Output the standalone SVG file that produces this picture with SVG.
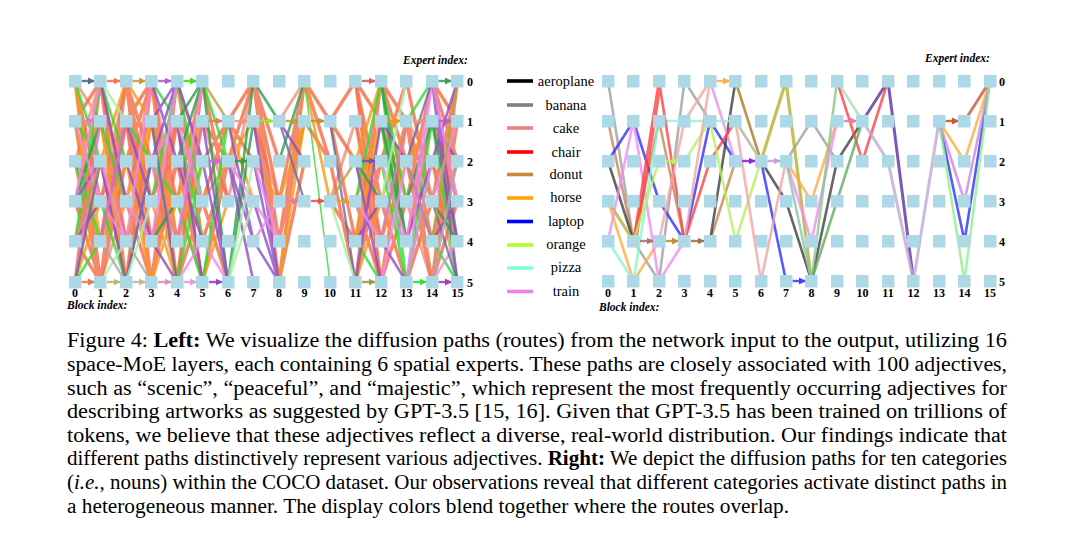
<svg xmlns="http://www.w3.org/2000/svg" width="1080" height="533" viewBox="0 0 1080 533">
<style>
.sq{fill:#add8e6;width:12.5px;height:12.5px}
.cn path{fill:none;stroke-linecap:round;stroke-opacity:.8}
.h{stroke-width:2.4;marker-end:url(#ah);stroke-opacity:.9}
.la{stroke:#f26d45;stroke-width:3.4}
.lb{stroke:#f4907e;stroke-width:3}
.lc{stroke:#f59a18;stroke-width:2.8}
.ld{stroke:#30dd30;stroke-width:2.6}
.le{stroke:#2e9e4e;stroke-width:2.6}
.lf{stroke:#8e4ec6;stroke-width:2.6}
.lg{stroke:#ee88ee;stroke-width:2.6}
.lh{stroke:#e07ab8;stroke-width:2.6}
.li{stroke:#6a6aa8;stroke-width:2.4}
.lj{stroke:#b8a040;stroke-width:2.6}
.lk{stroke:#a8f0a8;stroke-width:2.6}
.ll{stroke:#a8a8a8;stroke-width:2.4}
.r{stroke-width:2.6}
.ax{font-family:"Liberation Serif",serif;font-weight:bold;font-size:12px;fill:#000}
.axc{text-anchor:middle}
.axt{font-family:"Liberation Serif",serif;font-weight:bold;font-style:italic;font-size:11.5px}
.lgt{font-family:"Liberation Serif",serif;font-size:14.5px;text-anchor:middle;fill:#000}
.lgl{stroke-width:3.6}
.cap{font-family:"Liberation Serif",serif;font-size:20.5px;fill:#000}
</style>
<defs>
<marker id="ah" viewBox="0 0 10 10" refX="9" refY="5" markerWidth="3" markerHeight="3" orient="auto"><path d="M0 0L10 5L0 10z" fill="context-stroke"/></marker>
</defs>
<rect width="1080" height="533" fill="#fff"/>

<!-- LEFT CONNECTORS -->
<g id="connectors-left" class="cn">
<path class="lb" d="M75 241L100.5 121M75 161L100.5 81M75 282L100.5 161M75 81L100.5 121M100.5 81L126 241M100.5 201L126 81M100.5 282L126 201M100.5 161L126 201M126 201L151.5 81M126 282L151.5 121M126 121L151.5 241M126 161L151.5 121M151.5 81L177 201M151.5 161L177 282M151.5 241L177 121M177 81L202.5 161M177 201L202.5 282M177 282L202.5 121M202.5 121L228 201M228 201L253.5 81M253.5 121L279 201M279 121L304.5 81M330 201L355.5 121M355.5 121L381 282M355.5 81L381 241M381 121L406.5 201M381 81L406.5 201M406.5 121L432 161M406.5 201L432 282M432 81L457.5 201M432 161L457.5 282"/>
<path class="la" d="M75 81L100.5 282M75 121L100.5 282M75 161L100.5 282M75 201L100.5 282M75 81L100.5 201M75 282L100.5 81M75 121L100.5 81M75 241L100.5 282M75 201L100.5 241M100.5 282L126 81M100.5 282L126 121M100.5 241L126 81M100.5 81L126 201M100.5 161L126 282M100.5 121L126 241M100.5 201L126 121M100.5 282L126 161M100.5 81L126 282M126 81L151.5 282M126 81L151.5 241M126 81L151.5 201M126 121L151.5 282M126 81L151.5 161M126 282L151.5 81M126 161L151.5 81M126 201L151.5 282M126 241L151.5 161M126 121L151.5 81M151.5 282L177 121M151.5 282L177 81M151.5 121L177 282M151.5 241L177 161M151.5 81L177 241M151.5 201L177 121M151.5 282L177 161M151.5 81L177 282M151.5 121L177 201M177 121L202.5 282M177 282L202.5 81M177 81L202.5 241M177 161L202.5 201M177 241L202.5 121M177 161L202.5 282M177 201L202.5 81M177 282L202.5 201M177 121L202.5 161M202.5 161L228 121M202.5 201L228 121M202.5 241L228 161M202.5 81L228 201M202.5 121L228 161M202.5 201L228 282M202.5 282L228 161M228 121L253.5 81M228 161L253.5 81M228 121L253.5 161M253.5 81L279 282M253.5 81L279 201M253.5 81L279 161M253.5 81L279 241M253.5 121L279 241M279 282L304.5 81M279 282L304.5 161M279 201L304.5 81M279 241L304.5 121M279 241L304.5 81M304.5 81L330 121M304.5 81L330 161M304.5 121L330 161M330 121L355.5 81M330 121L355.5 241M330 121L355.5 161M330 161L355.5 282M330 201L355.5 241M355.5 81L381 282M355.5 81L381 201M355.5 282L381 81M355.5 282L381 161M355.5 241L381 81M355.5 161L381 241M355.5 121L381 241M355.5 201L381 282M355.5 241L381 161M355.5 81L381 121M381 81L406.5 161M381 282L406.5 121M381 241L406.5 121M381 81L406.5 121M381 121L406.5 241M381 161L406.5 81M381 201L406.5 282M381 282L406.5 201M406.5 121L432 282M406.5 121L432 241M406.5 161L432 282M406.5 121L432 201M406.5 201L432 81M406.5 81L432 201M406.5 241L432 121M406.5 282L432 201M432 282L457.5 81M432 81L457.5 161M432 282L457.5 121M432 81L457.5 121M432 241L457.5 121M432 282L457.5 201M432 201L457.5 81M432 161L457.5 241M432 121L457.5 201M432 241L457.5 161"/>
<path class="lc" d="M75 121L100.5 241M75 201L100.5 81M75 282L100.5 201M75 81L100.5 241M75 161L100.5 121M100.5 121L126 282M100.5 241L126 161M100.5 161L126 81M100.5 241L126 201M126 161L151.5 282M126 241L151.5 121M126 81L151.5 121M126 201L151.5 121M151.5 121L177 241M151.5 201L177 282M151.5 282L177 201M177 201L202.5 121M177 161L202.5 121M177 241L202.5 161M202.5 201L228 161M202.5 282L228 201M228 121L253.5 201M228 161L253.5 121M253.5 161L279 201M279 282L304.5 121M279 201L304.5 121M304.5 81L330 201M355.5 241L381 121M355.5 201L381 121M355.5 161L381 81M355.5 282L381 201M381 201L406.5 121M381 241L406.5 161M406.5 161L432 121M432 161L457.5 121"/>
<path class="ld" d="M75 81L100.5 161M75 241L100.5 81M75 161L100.5 241M75 282L100.5 241M75 121L100.5 161M100.5 81L126 161M100.5 201L126 282M100.5 121L126 201M126 282L151.5 161M126 121L151.5 161M151.5 201L177 81M151.5 161L177 201M151.5 81L177 121M177 81L202.5 201M177 282L202.5 161M177 121L202.5 241M177 201L202.5 282M202.5 282L228 121M202.5 81L228 161M381 81L406.5 282M381 121L406.5 282M381 81L406.5 201M381 161L406.5 282M355.5 241L381 282M355.5 201L381 81M406.5 282L432 161M406.5 121L432 81M406.5 282L432 121M432 121L457.5 282M432 241L457.5 282"/>
<path class="ld" style="stroke-width:1.6" d="M304.5 81L330 282"/>
<path class="le" d="M75 201L100.5 121M151.5 241L177 201M177 161L202.5 81M177 121L202.5 81M202.5 81L228 282M228 282L253.5 81M228 282L253.5 121M253.5 81L279 121M279 161L304.5 81M355.5 161L381 201M381 81L406.5 241M381 121L406.5 241M406.5 201L432 121M406.5 161L432 241M432 121L457.5 241M432 201L457.5 241"/>
<path class="lf" d="M75 201L100.5 161M75 241L100.5 201M100.5 161L126 282M100.5 81L126 201M100.5 241L126 121M126 121L151.5 201M126 161L151.5 241M126 282L151.5 161M151.5 81L177 161M151.5 161L177 81M151.5 121L177 81M151.5 241L177 282M177 121L202.5 282M177 81L202.5 161M177 161L202.5 241M202.5 121L228 282M202.5 161L228 282M228 161L253.5 241M228 161L253.5 282M228 121L253.5 241M253.5 121L279 282M253.5 161L279 282M253.5 201L279 282M253.5 241L279 282M279 121L304.5 161M355.5 282L381 121M355.5 161L381 282M355.5 241L381 201M381 121L406.5 161M381 241L406.5 282M406.5 241L432 161M432 81L457.5 241M432 81L457.5 282M432 121L457.5 161M432 161L457.5 81M432 241L457.5 201"/>
<path class="lg" d="M75 121L100.5 201M75 241L100.5 161M75 201L100.5 81M100.5 161L126 241M100.5 201L126 241M126 241L151.5 81M126 201L151.5 241M151.5 241L177 81M151.5 161L177 121M177 121L202.5 201M177 282L202.5 241M177 241L202.5 81M202.5 241L228 282M228 161L253.5 201M253.5 161L279 241M253.5 201L279 241M253.5 241L279 201M355.5 201L381 241M381 282L406.5 161M381 161L406.5 241M381 201L406.5 241M406.5 282L432 81M406.5 241L432 81M406.5 282L432 161M432 81L457.5 201M432 201L457.5 121M432 282L457.5 241"/>
<path class="lh" d="M75 282L100.5 121M75 161L100.5 201M100.5 241L126 121M151.5 161L177 241M177 241L202.5 121M381 241L406.5 121M406.5 161L432 241"/>
<path class="li" d="M75 282L100.5 161M151.5 121L177 282M279 121L304.5 201M330 121L355.5 282M406.5 161L432 81M432 201L457.5 282"/>
<path class="lj" d="M202.5 81L228 121M330 201L355.5 161M432 241L457.5 81M75 241L100.5 161"/>
<path class="lk" d="M228 282L253.5 161M228 282L253.5 201M126 282L151.5 201M330 201L355.5 282M381 201L406.5 81M100.5 282L126 241M100.5 81L126 121"/>
<path class="ll" d="M100.5 241L126 282M126 241L151.5 282M432 282L457.5 161"/>
<line class="h" x1="81.5" y1="81" x2="94.5" y2="81" stroke="#5a6a90"/>
<line class="h" x1="107" y1="81" x2="120" y2="81" stroke="#f07850"/>
<line class="h" x1="132.5" y1="81" x2="145.5" y2="81" stroke="#c8a030"/>
<line class="h" x1="158" y1="81" x2="171" y2="81" stroke="#b060d0"/>
<line class="h" x1="183.5" y1="81" x2="196.5" y2="81" stroke="#44dd22"/>
<line class="h" x1="362" y1="81" x2="375" y2="81" stroke="#d06070"/>
<line class="h" x1="438.5" y1="81" x2="451.5" y2="81" stroke="#40a060"/>
<line class="h" x1="81.5" y1="121" x2="94.5" y2="121" stroke="#e080c0"/>
<line class="h" x1="209" y1="121" x2="222" y2="121" stroke="#f07850"/>
<line class="h" x1="234.5" y1="121" x2="247.5" y2="121" stroke="#f09080"/>
<line class="h" x1="260" y1="121" x2="273" y2="121" stroke="#88ee33"/>
<line class="h" x1="285.5" y1="121" x2="298.5" y2="121" stroke="#b8a030"/>
<line class="h" x1="311" y1="121" x2="324" y2="121" stroke="#c89020"/>
<line class="h" x1="387.5" y1="121" x2="400.5" y2="121" stroke="#ff8c10"/>
<line class="h" x1="413" y1="121" x2="426" y2="121" stroke="#f09080"/>
<line class="h" x1="438.5" y1="121" x2="451.5" y2="121" stroke="#b060d0"/>
<line class="h" x1="209" y1="161" x2="222" y2="161" stroke="#c070e0"/>
<line class="h" x1="234.5" y1="161" x2="247.5" y2="161" stroke="#30a040"/>
<line class="h" x1="362" y1="161" x2="375" y2="161" stroke="#7050c0"/>
<line class="h" x1="285.5" y1="201" x2="298.5" y2="201" stroke="#e080a0"/>
<line class="h" x1="311" y1="201" x2="324" y2="201" stroke="#f05050"/>
<line class="h" x1="336.5" y1="201" x2="349.5" y2="201" stroke="#e0a020"/>
<line class="h" x1="81.5" y1="282" x2="94.5" y2="282" stroke="#f07850"/>
<line class="h" x1="107" y1="282" x2="120" y2="282" stroke="#b8b870"/>
<line class="h" x1="132.5" y1="282" x2="145.5" y2="282" stroke="#c0c090"/>
<line class="h" x1="158" y1="282" x2="171" y2="282" stroke="#d890c0"/>
<line class="h" x1="183.5" y1="282" x2="196.5" y2="282" stroke="#e0a0e0"/>
<line class="h" x1="209" y1="282" x2="222" y2="282" stroke="#9a40c8"/>
<line class="h" x1="362" y1="282" x2="375" y2="282" stroke="#a0a040"/>
<line class="h" x1="413" y1="282" x2="426" y2="282" stroke="#30e030"/>
<line class="h" x1="438.5" y1="282" x2="451.5" y2="282" stroke="#a040c0"/>
</g>

<!-- RIGHT CONNECTORS -->
<g id="connectors-right" class="cn">
<path class="r" stroke="#a0a0a0" d="M608 81L633.5 241M633.5 241L659 281M659 281L684.5 81M684.5 81L710 121M786 161L811.5 121M811.5 121L837 161"/>
<path class="r" stroke="#c8875a" d="M608 121L633.5 241M633.5 241L659 121M659 121L684.5 241M710 241L735.5 161"/>
<path class="r" stroke="#3030ff" d="M608 161L633.5 121M633.5 121L659 201M659 201L684.5 241M684.5 241L710 121M710 121L735.5 161M761 161L786 281M939 121L964.5 241M964.5 241L990 81"/>
<path class="r" stroke="#404040" d="M608 161L633.5 241M710 241L735.5 81M761 161L786 201M786 201L811.5 281M811.5 281L837 161M837 161L862.5 121"/>
<path class="r" stroke="#b4b030" style="stroke-width:3.2" d="M608 201L633.5 241M761 161L786 81M786 81L811.5 281"/>
<path class="r" stroke="#ffae40" d="M608 201L633.5 281M633.5 281L659 241M786 161L811.5 201M811.5 201L837 121M939 121L964.5 161M964.5 161L990 81"/>
<path class="r" stroke="#f08cf0" d="M608 241L633.5 121M633.5 121L659 281M659 281L684.5 241M710 81L735.5 161M786 161L811.5 241M811.5 241L837 121"/>
<path class="r" stroke="#88f5d0" d="M608 241L633.5 281M633.5 281L659 121M659 121L735.5 121"/>
<path class="r" stroke="#ff4040" d="M633.5 241L659 81M636 241L661 81M659 81L684.5 241M684.5 241L710 161M710 161L735.5 121M837 81L862.5 161M862.5 161L888 81"/>
<path class="r" stroke="#b8f060" d="M633.5 241L659 161M684.5 161L710 121M710 121L735.5 241M735.5 241L761 161"/>
<path class="r" stroke="#f4a4a4" d="M659 241L684.5 121M684.5 121L710 81M684.5 241L710 81M735.5 121L761 281M761 281L786 161"/>
<path class="r" stroke="#b07818" d="M735.5 81L761 161"/>
<path class="r" stroke="#a8b49c" d="M735.5 121L761 161"/>
<path class="r" stroke="#88c8a0" d="M786 161L811.5 281"/>
<path class="r" stroke="#8cc88c" d="M811.5 281L837 81"/>
<path class="r" stroke="#60aa60" d="M811.5 281L862.5 121"/>
<path class="r" stroke="#a8dcb0" d="M837 81L862.5 121"/>
<path class="r" stroke="#5a2ea0" style="stroke-width:3" d="M862.5 121L888 81M888 81L913.5 281"/>
<path class="r" stroke="#c0a8d0" style="stroke-width:3" d="M862.5 121L888 161M888 161L913.5 281M913.5 281L939 121"/>
<path class="r" stroke="#c85a30" style="stroke-width:3" d="M964.5 121L990 81"/>
<path class="r" stroke="#c888d8" d="M939 121L964.5 201M964.5 201L990 81"/>
<path class="r" stroke="#90f090" d="M939 121L964.5 281M964.5 281L990 81"/>
<line class="h" x1="640" y1="241" x2="653" y2="241" stroke="#b07070"/>
<line class="h" x1="665.5" y1="241" x2="678.5" y2="241" stroke="#c09030"/>
<line class="h" x1="691" y1="241" x2="704" y2="241" stroke="#a07048"/>
<line class="h" x1="665.5" y1="161" x2="678.5" y2="161" stroke="#b8f060"/>
<line class="h" x1="716.5" y1="81" x2="729.5" y2="81" stroke="#ffb040"/>
<line class="h" x1="742" y1="161" x2="755" y2="161" stroke="#8a2be2"/>
<line class="h" x1="767.5" y1="161" x2="780" y2="161" stroke="#c8a0d0"/>
<line class="h" x1="792.5" y1="281" x2="805.5" y2="281" stroke="#4040ff"/>
<line class="h" x1="843.5" y1="121" x2="856.5" y2="121" stroke="#f07a9a"/>
<line class="h" x1="945.5" y1="121" x2="958.5" y2="121" stroke="#c85a30"/>
</g>

<!-- LEFT NODES -->
<g id="nodes-left">
<g id="L0-0"><rect class="sq" x="69" y="75"/></g><g id="L0-1"><rect class="sq" x="69" y="115"/></g><g id="L0-2"><rect class="sq" x="69" y="155"/></g><g id="L0-3"><rect class="sq" x="69" y="195"/></g><g id="L0-4"><rect class="sq" x="69" y="235"/></g><g id="L0-5"><rect class="sq" x="69" y="276"/></g>
<g id="L1-0"><rect class="sq" x="94" y="75"/></g><g id="L1-1"><rect class="sq" x="94" y="115"/></g><g id="L1-2"><rect class="sq" x="94" y="155"/></g><g id="L1-3"><rect class="sq" x="94" y="195"/></g><g id="L1-4"><rect class="sq" x="94" y="235"/></g><g id="L1-5"><rect class="sq" x="94" y="276"/></g>
<g id="L2-0"><rect class="sq" x="120" y="75"/></g><g id="L2-1"><rect class="sq" x="120" y="115"/></g><g id="L2-2"><rect class="sq" x="120" y="155"/></g><g id="L2-3"><rect class="sq" x="120" y="195"/></g><g id="L2-4"><rect class="sq" x="120" y="235"/></g><g id="L2-5"><rect class="sq" x="120" y="276"/></g>
<g id="L3-0"><rect class="sq" x="145" y="75"/></g><g id="L3-1"><rect class="sq" x="145" y="115"/></g><g id="L3-2"><rect class="sq" x="145" y="155"/></g><g id="L3-3"><rect class="sq" x="145" y="195"/></g><g id="L3-4"><rect class="sq" x="145" y="235"/></g><g id="L3-5"><rect class="sq" x="145" y="276"/></g>
<g id="L4-0"><rect class="sq" x="171" y="75"/></g><g id="L4-1"><rect class="sq" x="171" y="115"/></g><g id="L4-2"><rect class="sq" x="171" y="155"/></g><g id="L4-3"><rect class="sq" x="171" y="195"/></g><g id="L4-4"><rect class="sq" x="171" y="235"/></g><g id="L4-5"><rect class="sq" x="171" y="276"/></g>
<g id="L5-0"><rect class="sq" x="196" y="75"/></g><g id="L5-1"><rect class="sq" x="196" y="115"/></g><g id="L5-2"><rect class="sq" x="196" y="155"/></g><g id="L5-3"><rect class="sq" x="196" y="195"/></g><g id="L5-4"><rect class="sq" x="196" y="235"/></g><g id="L5-5"><rect class="sq" x="196" y="276"/></g>
<g id="L6-0"><rect class="sq" x="222" y="75"/></g><g id="L6-1"><rect class="sq" x="222" y="115"/></g><g id="L6-2"><rect class="sq" x="222" y="155"/></g><g id="L6-3"><rect class="sq" x="222" y="195"/></g><g id="L6-4"><rect class="sq" x="222" y="235"/></g><g id="L6-5"><rect class="sq" x="222" y="276"/></g>
<g id="L7-0"><rect class="sq" x="247" y="75"/></g><g id="L7-1"><rect class="sq" x="247" y="115"/></g><g id="L7-2"><rect class="sq" x="247" y="155"/></g><g id="L7-3"><rect class="sq" x="247" y="195"/></g><g id="L7-4"><rect class="sq" x="247" y="235"/></g><g id="L7-5"><rect class="sq" x="247" y="276"/></g>
<g id="L8-0"><rect class="sq" x="273" y="75"/></g><g id="L8-1"><rect class="sq" x="273" y="115"/></g><g id="L8-2"><rect class="sq" x="273" y="155"/></g><g id="L8-3"><rect class="sq" x="273" y="195"/></g><g id="L8-4"><rect class="sq" x="273" y="235"/></g><g id="L8-5"><rect class="sq" x="273" y="276"/></g>
<g id="L9-0"><rect class="sq" x="298" y="75"/></g><g id="L9-1"><rect class="sq" x="298" y="115"/></g><g id="L9-2"><rect class="sq" x="298" y="155"/></g><g id="L9-3"><rect class="sq" x="298" y="195"/></g><g id="L9-4"><rect class="sq" x="298" y="235"/></g><g id="L9-5"><rect class="sq" x="298" y="276"/></g>
<g id="L10-0"><rect class="sq" x="324" y="75"/></g><g id="L10-1"><rect class="sq" x="324" y="115"/></g><g id="L10-2"><rect class="sq" x="324" y="155"/></g><g id="L10-3"><rect class="sq" x="324" y="195"/></g><g id="L10-4"><rect class="sq" x="324" y="235"/></g><g id="L10-5"><rect class="sq" x="324" y="276"/></g>
<g id="L11-0"><rect class="sq" x="349" y="75"/></g><g id="L11-1"><rect class="sq" x="349" y="115"/></g><g id="L11-2"><rect class="sq" x="349" y="155"/></g><g id="L11-3"><rect class="sq" x="349" y="195"/></g><g id="L11-4"><rect class="sq" x="349" y="235"/></g><g id="L11-5"><rect class="sq" x="349" y="276"/></g>
<g id="L12-0"><rect class="sq" x="375" y="75"/></g><g id="L12-1"><rect class="sq" x="375" y="115"/></g><g id="L12-2"><rect class="sq" x="375" y="155"/></g><g id="L12-3"><rect class="sq" x="375" y="195"/></g><g id="L12-4"><rect class="sq" x="375" y="235"/></g><g id="L12-5"><rect class="sq" x="375" y="276"/></g>
<g id="L13-0"><rect class="sq" x="400" y="75"/></g><g id="L13-1"><rect class="sq" x="400" y="115"/></g><g id="L13-2"><rect class="sq" x="400" y="155"/></g><g id="L13-3"><rect class="sq" x="400" y="195"/></g><g id="L13-4"><rect class="sq" x="400" y="235"/></g><g id="L13-5"><rect class="sq" x="400" y="276"/></g>
<g id="L14-0"><rect class="sq" x="426" y="75"/></g><g id="L14-1"><rect class="sq" x="426" y="115"/></g><g id="L14-2"><rect class="sq" x="426" y="155"/></g><g id="L14-3"><rect class="sq" x="426" y="195"/></g><g id="L14-4"><rect class="sq" x="426" y="235"/></g><g id="L14-5"><rect class="sq" x="426" y="276"/></g>
<g id="L15-0"><rect class="sq" x="451" y="75"/></g><g id="L15-1"><rect class="sq" x="451" y="115"/></g><g id="L15-2"><rect class="sq" x="451" y="155"/></g><g id="L15-3"><rect class="sq" x="451" y="195"/></g><g id="L15-4"><rect class="sq" x="451" y="235"/></g><g id="L15-5"><rect class="sq" x="451" y="276"/></g>
</g>

<!-- RIGHT NODES -->
<g id="nodes-right">
<g id="R0-0"><rect class="sq" x="602" y="75"/></g><g id="R0-1"><rect class="sq" x="602" y="115"/></g><g id="R0-2"><rect class="sq" x="602" y="155"/></g><g id="R0-3"><rect class="sq" x="602" y="195"/></g><g id="R0-4"><rect class="sq" x="602" y="235"/></g><g id="R0-5"><rect class="sq" x="602" y="275"/></g>
<g id="R1-0"><rect class="sq" x="627" y="75"/></g><g id="R1-1"><rect class="sq" x="627" y="115"/></g><g id="R1-2"><rect class="sq" x="627" y="155"/></g><g id="R1-3"><rect class="sq" x="627" y="195"/></g><g id="R1-4"><rect class="sq" x="627" y="235"/></g><g id="R1-5"><rect class="sq" x="627" y="275"/></g>
<g id="R2-0"><rect class="sq" x="653" y="75"/></g><g id="R2-1"><rect class="sq" x="653" y="115"/></g><g id="R2-2"><rect class="sq" x="653" y="155"/></g><g id="R2-3"><rect class="sq" x="653" y="195"/></g><g id="R2-4"><rect class="sq" x="653" y="235"/></g><g id="R2-5"><rect class="sq" x="653" y="275"/></g>
<g id="R3-0"><rect class="sq" x="678" y="75"/></g><g id="R3-1"><rect class="sq" x="678" y="115"/></g><g id="R3-2"><rect class="sq" x="678" y="155"/></g><g id="R3-3"><rect class="sq" x="678" y="195"/></g><g id="R3-4"><rect class="sq" x="678" y="235"/></g><g id="R3-5"><rect class="sq" x="678" y="275"/></g>
<g id="R4-0"><rect class="sq" x="704" y="75"/></g><g id="R4-1"><rect class="sq" x="704" y="115"/></g><g id="R4-2"><rect class="sq" x="704" y="155"/></g><g id="R4-3"><rect class="sq" x="704" y="195"/></g><g id="R4-4"><rect class="sq" x="704" y="235"/></g><g id="R4-5"><rect class="sq" x="704" y="275"/></g>
<g id="R5-0"><rect class="sq" x="729" y="75"/></g><g id="R5-1"><rect class="sq" x="729" y="115"/></g><g id="R5-2"><rect class="sq" x="729" y="155"/></g><g id="R5-3"><rect class="sq" x="729" y="195"/></g><g id="R5-4"><rect class="sq" x="729" y="235"/></g><g id="R5-5"><rect class="sq" x="729" y="275"/></g>
<g id="R6-0"><rect class="sq" x="755" y="75"/></g><g id="R6-1"><rect class="sq" x="755" y="115"/></g><g id="R6-2"><rect class="sq" x="755" y="155"/></g><g id="R6-3"><rect class="sq" x="755" y="195"/></g><g id="R6-4"><rect class="sq" x="755" y="235"/></g><g id="R6-5"><rect class="sq" x="755" y="275"/></g>
<g id="R7-0"><rect class="sq" x="780" y="75"/></g><g id="R7-1"><rect class="sq" x="780" y="115"/></g><g id="R7-2"><rect class="sq" x="780" y="155"/></g><g id="R7-3"><rect class="sq" x="780" y="195"/></g><g id="R7-4"><rect class="sq" x="780" y="235"/></g><g id="R7-5"><rect class="sq" x="780" y="275"/></g>
<g id="R8-0"><rect class="sq" x="805" y="75"/></g><g id="R8-1"><rect class="sq" x="805" y="115"/></g><g id="R8-2"><rect class="sq" x="805" y="155"/></g><g id="R8-3"><rect class="sq" x="805" y="195"/></g><g id="R8-4"><rect class="sq" x="805" y="235"/></g><g id="R8-5"><rect class="sq" x="805" y="275"/></g>
<g id="R9-0"><rect class="sq" x="831" y="75"/></g><g id="R9-1"><rect class="sq" x="831" y="115"/></g><g id="R9-2"><rect class="sq" x="831" y="155"/></g><g id="R9-3"><rect class="sq" x="831" y="195"/></g><g id="R9-4"><rect class="sq" x="831" y="235"/></g><g id="R9-5"><rect class="sq" x="831" y="275"/></g>
<g id="R10-0"><rect class="sq" x="856" y="75"/></g><g id="R10-1"><rect class="sq" x="856" y="115"/></g><g id="R10-2"><rect class="sq" x="856" y="155"/></g><g id="R10-3"><rect class="sq" x="856" y="195"/></g><g id="R10-4"><rect class="sq" x="856" y="235"/></g><g id="R10-5"><rect class="sq" x="856" y="275"/></g>
<g id="R11-0"><rect class="sq" x="882" y="75"/></g><g id="R11-1"><rect class="sq" x="882" y="115"/></g><g id="R11-2"><rect class="sq" x="882" y="155"/></g><g id="R11-3"><rect class="sq" x="882" y="195"/></g><g id="R11-4"><rect class="sq" x="882" y="235"/></g><g id="R11-5"><rect class="sq" x="882" y="275"/></g>
<g id="R12-0"><rect class="sq" x="907" y="75"/></g><g id="R12-1"><rect class="sq" x="907" y="115"/></g><g id="R12-2"><rect class="sq" x="907" y="155"/></g><g id="R12-3"><rect class="sq" x="907" y="195"/></g><g id="R12-4"><rect class="sq" x="907" y="235"/></g><g id="R12-5"><rect class="sq" x="907" y="275"/></g>
<g id="R13-0"><rect class="sq" x="933" y="75"/></g><g id="R13-1"><rect class="sq" x="933" y="115"/></g><g id="R13-2"><rect class="sq" x="933" y="155"/></g><g id="R13-3"><rect class="sq" x="933" y="195"/></g><g id="R13-4"><rect class="sq" x="933" y="235"/></g><g id="R13-5"><rect class="sq" x="933" y="275"/></g>
<g id="R14-0"><rect class="sq" x="958" y="75"/></g><g id="R14-1"><rect class="sq" x="958" y="115"/></g><g id="R14-2"><rect class="sq" x="958" y="155"/></g><g id="R14-3"><rect class="sq" x="958" y="195"/></g><g id="R14-4"><rect class="sq" x="958" y="235"/></g><g id="R14-5"><rect class="sq" x="958" y="275"/></g>
<g id="R15-0"><rect class="sq" x="984" y="75"/></g><g id="R15-1"><rect class="sq" x="984" y="115"/></g><g id="R15-2"><rect class="sq" x="984" y="155"/></g><g id="R15-3"><rect class="sq" x="984" y="195"/></g><g id="R15-4"><rect class="sq" x="984" y="235"/></g><g id="R15-5"><rect class="sq" x="984" y="275"/></g>
</g>

<!-- AXES LEFT -->
<g id="axes-left">
<text class="axt" x="403" y="64">Expert index:</text>
<text class="ax" x="467" y="85.5">0</text><text class="ax" x="467" y="125.5">1</text><text class="ax" x="467" y="165.5">2</text><text class="ax" x="467" y="205.5">3</text><text class="ax" x="467" y="245.5">4</text><text class="ax" x="467" y="286.5">5</text>
<g class="ax axc"><text x="75" y="297">0</text><text x="100.5" y="297">1</text><text x="126" y="297">2</text><text x="151.5" y="297">3</text><text x="177" y="297">4</text><text x="202.5" y="297">5</text><text x="228" y="297">6</text><text x="253.5" y="297">7</text><text x="279" y="297">8</text><text x="304.5" y="297">9</text><text x="330" y="297">10</text><text x="355.5" y="297">11</text><text x="381" y="297">12</text><text x="406.5" y="297">13</text><text x="432" y="297">14</text><text x="457.5" y="297">15</text></g>
<text class="axt" x="67" y="309">Block index:</text>
</g>

<!-- AXES RIGHT -->
<g id="axes-right">
<text class="axt" x="925" y="62">Expert index:</text>
<text class="ax" x="999" y="85.5">0</text><text class="ax" x="999" y="125.5">1</text><text class="ax" x="999" y="165.5">2</text><text class="ax" x="999" y="205.5">3</text><text class="ax" x="999" y="245.5">4</text><text class="ax" x="999" y="285.5">5</text>
<g class="ax axc"><text x="608" y="297">0</text><text x="633.5" y="297">1</text><text x="659" y="297">2</text><text x="684.5" y="297">3</text><text x="710" y="297">4</text><text x="735.5" y="297">5</text><text x="761" y="297">6</text><text x="786" y="297">7</text><text x="811.5" y="297">8</text><text x="837" y="297">9</text><text x="862.5" y="297">10</text><text x="888" y="297">11</text><text x="913.5" y="297">12</text><text x="939" y="297">13</text><text x="964.5" y="297">14</text><text x="990" y="297">15</text></g>
<text class="axt" x="599" y="311">Block index:</text>
</g>

<!-- LEGEND -->
<g id="legend">
<line class="lgl" x1="507" y1="81" x2="533" y2="81" stroke="#000"/><text class="lgt" x="566" y="86">aeroplane</text>
<line class="lgl" x1="507" y1="105" x2="533" y2="105" stroke="#808080"/><text class="lgt" x="566" y="109.5">banana</text>
<line class="lgl" x1="507" y1="128" x2="533" y2="128" stroke="#f08080"/><text class="lgt" x="566" y="132.5">cake</text>
<line class="lgl" x1="507" y1="152" x2="533" y2="152" stroke="#ff0000"/><text class="lgt" x="566" y="156.5">chair</text>
<line class="lgl" x1="507" y1="174.5" x2="533" y2="174.5" stroke="#cd853f"/><text class="lgt" x="566" y="178.5">donut</text>
<line class="lgl" x1="507" y1="198" x2="533" y2="198" stroke="#ffa500"/><text class="lgt" x="566" y="201.5">horse</text>
<line class="lgl" x1="507" y1="221.5" x2="533" y2="221.5" stroke="#0000ff"/><text class="lgt" x="566" y="225.5">laptop</text>
<line class="lgl" x1="507" y1="245" x2="533" y2="245" stroke="#adff2f"/><text class="lgt" x="566" y="249">orange</text>
<line class="lgl" x1="507" y1="268" x2="533" y2="268" stroke="#7fffd4"/><text class="lgt" x="566" y="272">pizza</text>
<line class="lgl" x1="507" y1="291.5" x2="533" y2="291.5" stroke="#ee82ee"/><text class="lgt" x="566" y="295.5">train</text>
</g>

<!-- CAPTION -->
<g id="caption" class="cap">
<text x="67" y="347.3" textLength="940" lengthAdjust="spacingAndGlyphs">Figure 4:  <tspan font-weight="bold">Left:</tspan> We visualize the diffusion paths (routes) from the network input to the output, utilizing 16</text>
<text x="67" y="370.9" textLength="940" lengthAdjust="spacingAndGlyphs">space-MoE layers, each containing 6 spatial experts. These paths are closely associated with 100 adjectives,</text>
<text x="67" y="394.5" textLength="940" lengthAdjust="spacingAndGlyphs">such as “scenic”, “peaceful”, and “majestic”, which represent the most frequently occurring adjectives for</text>
<text x="67" y="418.1" textLength="940" lengthAdjust="spacingAndGlyphs">describing artworks as suggested by GPT-3.5 [15, 16]. Given that GPT-3.5 has been trained on trillions of</text>
<text x="67" y="441.7" textLength="940" lengthAdjust="spacingAndGlyphs">tokens, we believe that these adjectives reflect a diverse, real-world distribution. Our findings indicate that</text>
<text x="67" y="465.3" textLength="940" lengthAdjust="spacingAndGlyphs">different paths distinctively represent various adjectives. <tspan font-weight="bold">Right:</tspan> We depict the diffusion paths for ten categories</text>
<text x="67" y="488.9" textLength="940" lengthAdjust="spacingAndGlyphs">(<tspan font-style="italic">i.e.,</tspan> nouns) within the COCO dataset. Our observations reveal that different categories activate distinct paths in</text>
<text x="67" y="512.5" textLength="722" lengthAdjust="spacingAndGlyphs">a heterogeneous manner. The display colors blend together where the routes overlap.</text>
</g>
</svg>
